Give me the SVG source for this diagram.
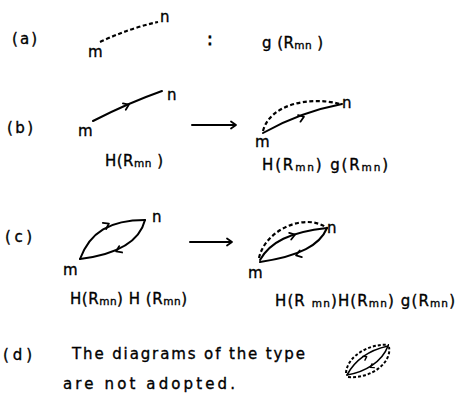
<svg xmlns="http://www.w3.org/2000/svg" xmlns:xlink="http://www.w3.org/1999/xlink" width="459" height="407" viewBox="0 0 459 407">
<style>
text{font-family:"DejaVu Sans","Liberation Sans",sans-serif;font-size:15px;fill:#000;stroke:#000;stroke-width:0.35}
.sub{font-size:10.5px}
.ln{fill:none;stroke:#000;stroke-width:2;stroke-linecap:round}
.ds{fill:none;stroke:#000;stroke-width:2.2;stroke-dasharray:4 2.5}
.thin{fill:none;stroke:#000;stroke-width:1.6;stroke-linecap:round}
</style>
<defs>
<path id="chev" d="M-4,-3.5 L1,0 L-4,3.5" fill="none" stroke="#000" stroke-width="1.8" stroke-linecap="round" stroke-linejoin="round"/>
<path id="chevs" d="M-2.5,-2.2 L0.8,0 L-2.5,2.2" fill="none" stroke="#000" stroke-width="1.4" stroke-linecap="round" stroke-linejoin="round"/>
</defs>
<g id="labels">
<text x="12" y="44" textLength="25" lengthAdjust="spacing">(a)</text>
<text x="7" y="133" textLength="26" lengthAdjust="spacing">(b)</text>
<text x="5" y="242" textLength="27" lengthAdjust="spacing">(c)</text>
<text x="3" y="360" textLength="29" lengthAdjust="spacing">(d)</text>
</g>
<g id="node-a-left">
<text x="88" y="57">m</text>
<text x="160" y="22">n</text>
</g>
<g id="node-a-right">
<text x="207" y="45" style="font-size:17px;stroke-width:0.8">:</text>
<text x="262" y="48" textLength="61" lengthAdjust="spacing">g (R<tspan class="sub" dy="1">mn</tspan><tspan dy="-1"> )</tspan></text>
</g>
<g id="node-b-left">
<text x="78" y="136">m</text>
<text x="167" y="100">n</text>
<text x="105" y="166" textLength="58" lengthAdjust="spacing">H(R<tspan class="sub" dy="1">mn</tspan><tspan dy="-1"> )</tspan></text>
</g>
<g id="node-b-right">
<text x="255" y="147">m</text>
<text x="342" y="108">n</text>
<text x="262" y="170" textLength="126" lengthAdjust="spacing">H(R<tspan class="sub" dy="1">mn</tspan><tspan dy="-1">) g(R</tspan><tspan class="sub" dy="1">mn</tspan><tspan dy="-1">)</tspan></text>
</g>
<g id="node-c-left">
<text x="63" y="275">m</text>
<text x="152" y="222">n</text>
<text x="70" y="304" textLength="117" lengthAdjust="spacing">H(R<tspan class="sub" dy="1">mn</tspan><tspan dy="-1">) H (R</tspan><tspan class="sub" dy="1">mn</tspan><tspan dy="-1">)</tspan></text>
</g>
<g id="node-c-right">
<text x="248" y="278">m</text>
<text x="327" y="233">n</text>
<text x="275" y="306" textLength="180" lengthAdjust="spacing">H(R <tspan class="sub" dy="1">mn</tspan><tspan dy="-1">)H(R</tspan><tspan class="sub" dy="1">mn</tspan><tspan dy="-1">) g(R</tspan><tspan class="sub" dy="1">mn</tspan><tspan dy="-1">)</tspan></text>
</g>
<g id="node-d">
<text x="72" y="359" textLength="233" lengthAdjust="spacing">The diagrams of the type</text>
<text x="63" y="389" textLength="172" lengthAdjust="spacing">are not adopted.</text>
</g>
<g id="connectors">
<path class="ds" d="M100,42 Q130,28 158,22"/>
<path class="ln" d="M93,121 Q128,103 162,91"/>
<use xlink:href="#chev" transform="translate(128,105) rotate(-24)"/>
<path class="ln" d="M192,125 L235,125"/>
<use xlink:href="#chev" transform="translate(235,125)"/>
<path class="ln" d="M263,133 Q300,112 342,104"/>
<use xlink:href="#chev" transform="translate(303,117) rotate(-20)"/>
<path class="ds" d="M263,131 C270,104 310,96 340,104"/>
<path class="ln" d="M80,259 C90,232 110,220 145,220"/>
<use xlink:href="#chev" transform="translate(108,224) rotate(-28)"/>
<path class="ln" d="M145,220 C140,240 120,254 80,259"/>
<use xlink:href="#chev" transform="translate(117,251) rotate(155)"/>
<path class="ln" d="M190,242 L231,242"/>
<use xlink:href="#chev" transform="translate(231,242)"/>
<path class="ln" d="M260,260 C270,242 290,232 327,228"/>
<use xlink:href="#chev" transform="translate(294,235) rotate(-17)"/>
<path class="ln" d="M327,228 C320,245 300,256 260,262"/>
<use xlink:href="#chev" transform="translate(297,255) rotate(162)"/>
<path class="ds" d="M259,258 C265,230 305,212 327,228"/>
<path class="thin" d="M347,375 C355,360 370,350 388,346"/>
<path class="thin" d="M347,375 C365,372 382,362 388,346"/>
<use xlink:href="#chevs" transform="translate(366,357) rotate(-30)"/>
<use xlink:href="#chevs" transform="translate(371,367) rotate(150)"/>
<path class="ds" style="stroke-width:2;stroke-dasharray:3 2" d="M346,373 C347,356 370,343 389,345"/>
<path class="ds" style="stroke-width:2;stroke-dasharray:3 2" d="M348,377 C372,379 392,362 389,347"/>
</g>
</svg>
